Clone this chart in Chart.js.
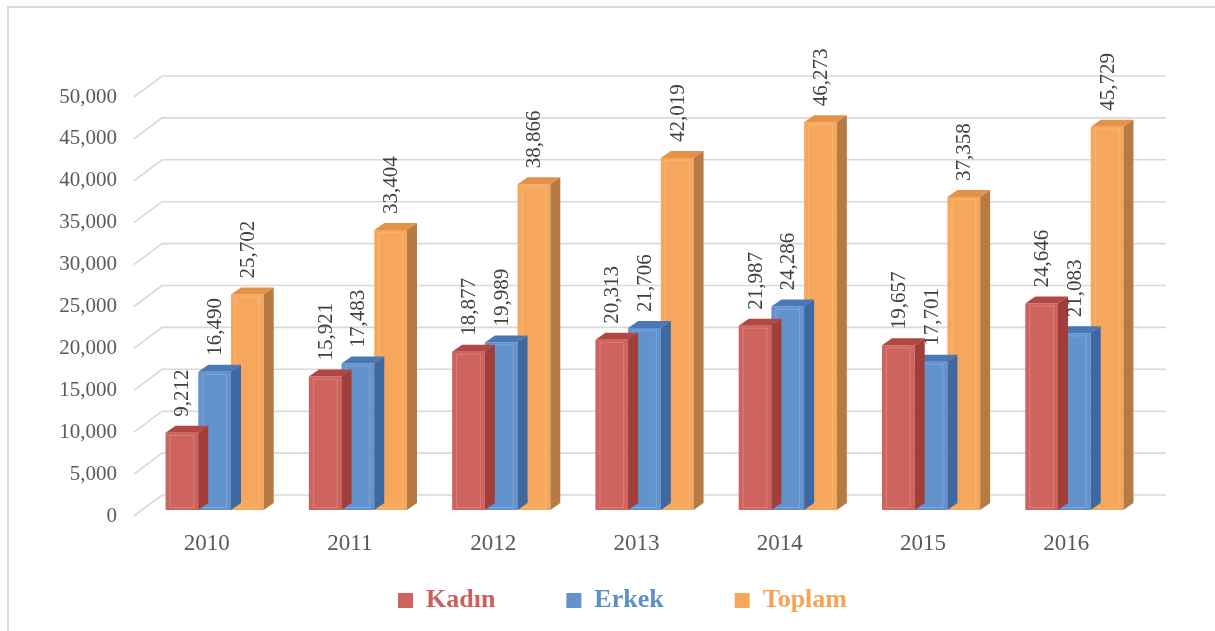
<!DOCTYPE html>
<html>
<head>
<meta charset="utf-8">
<title>Kadın / Erkek / Toplam</title>
<script src="https://cdn.jsdelivr.net/npm/chart.js@4/dist/chart.umd.min.js"></script>
<style>
	html, body { margin: 0; padding: 0; background: #fff; }
	#mycanvas { display: block; }
</style>
</head>
<body>
<canvas id="mycanvas" width="1215" height="631"></canvas>
<script>
var years = ['2010', '2011', '2012', '2013', '2014', '2015', '2016'];
var kadin = [9212, 15921, 18877, 20313, 21987, 19657, 24646];
var erkek = [16490, 17483, 19989, 21706, 24286, 17701, 21083];
var toplam = [25702, 33404, 38866, 42019, 46273, 37358, 45729];
var seriesNames = ['Kadın', 'Erkek', 'Toplam'];

var frontColors = ['rgb(207,100,95)', 'rgb(98,147,206)', 'rgb(247,167,92)'];
var topColors = ['rgb(178,72,68)', 'rgb(72,120,182)', 'rgb(228,146,72)'];
var sideColors = ['rgb(160,62,58)', 'rgb(62,104,160)', 'rgb(182,123,66)'];
var legendText = ['rgb(205,96,92)', 'rgb(92,142,202)', 'rgb(246,163,88)'];

// 3d depth of back wall and of bars
var wallDx = 28, wallUp = 15;
var barDx = 10, barDy = 7;

var frame3d = {
	id: 'frame3d',
	beforeDraw: function(chart) {
		var ctx = chart.ctx;
		ctx.save();
		ctx.fillStyle = '#fff';
		ctx.fillRect(0, 0, chart.width, chart.height);
		ctx.strokeStyle = '#dcdcdc';
		ctx.lineWidth = 2;
		ctx.beginPath();
		ctx.moveTo(8, chart.height);
		ctx.lineTo(8, 7);
		ctx.lineTo(chart.width, 7);
		ctx.stroke();
		ctx.restore();
	},
	afterLayout: function(chart) {
		// nudge the legend row to where it sits in the original
		var lg = chart.legend;
		var pad = lg.options.labels.padding;
		var cur = (lg.left + pad + lg.right - lg.lineWidths[0]) / 2;
		var shift = 398 - cur;
		lg.left += shift;
		lg.right += shift;
		// give the year labels room below the bars (they are clipped to the axis box)
		chart.scales.x.bottom = chart.scales.x.top + 60;
	},
	beforeDatasetsDraw: function(chart) {
		var ctx = chart.ctx;
		var y = chart.scales.y;
		var area = chart.chartArea;
		var x0 = 134;
		ctx.save();
		ctx.strokeStyle = '#d9d9d9';
		ctx.lineWidth = 1.6;
		y.ticks.forEach(function(t) {
			var py = y.getPixelForValue(t.value);
			ctx.beginPath();
			ctx.moveTo(x0, py + 6);
			ctx.lineTo(x0 + wallDx, py - wallUp);
			ctx.lineTo(area.right + 20, py - wallUp);
			ctx.stroke();
		});
		ctx.restore();
	},
	afterDatasetDraw: function(chart, args) {
		var ctx = chart.ctx;
		var i = args.index;
		ctx.save();
		args.meta.data.forEach(function(bar) {
			var l = bar.x - bar.width / 2;
			var r = bar.x + bar.width / 2;
			// top face
			ctx.fillStyle = topColors[i];
			ctx.beginPath();
			ctx.moveTo(l, bar.y);
			ctx.lineTo(r, bar.y);
			ctx.lineTo(r + barDx, bar.y - barDy);
			ctx.lineTo(l + barDx, bar.y - barDy);
			ctx.closePath();
			ctx.fill();
			// side face
			ctx.fillStyle = sideColors[i];
			ctx.beginPath();
			ctx.moveTo(r, bar.y);
			ctx.lineTo(r + barDx, bar.y - barDy);
			ctx.lineTo(r + barDx, bar.base - barDy);
			ctx.lineTo(r, bar.base);
			ctx.closePath();
			ctx.fill();
			// light inner edge on the front
			ctx.strokeStyle = 'rgba(255,255,255,0.18)';
			ctx.lineWidth = 1;
			ctx.strokeRect(l + 4.5, bar.y + 2.5, bar.width - 9, bar.base - bar.y - 5);
		});
		ctx.restore();
	},
	afterDatasetsDraw: function(chart) {
		var ctx = chart.ctx;
		ctx.save();
		ctx.fillStyle = '#404040';
		ctx.font = '21px "Liberation Serif", "Times New Roman", serif';
		ctx.textAlign = 'left';
		ctx.textBaseline = 'middle';
		chart.data.datasets.forEach(function(ds, i) {
			var meta = chart.getDatasetMeta(i);
			meta.data.forEach(function(bar, j) {
				ctx.save();
				ctx.translate(bar.x + 1, bar.y - 16);
				ctx.rotate(-Math.PI / 2);
				ctx.fillText(ds.data[j].toLocaleString('en-US'), 0, 0);
				ctx.restore();
			});
		});
		ctx.restore();
	}
};

var chartdata = {
	labels: years,
	datasets: [
		{ label: seriesNames[0], data: kadin, backgroundColor: frontColors[0] },
		{ label: seriesNames[1], data: erkek, backgroundColor: frontColors[1] },
		{ label: seriesNames[2], data: toplam, backgroundColor: frontColors[2] }
	]
};

var ctx = document.getElementById('mycanvas');

var barGraph = new Chart(ctx, {
	type: 'bar',
	data: chartdata,
	plugins: [frame3d],
	options: {
		responsive: false,
		animation: false,
		layout: { padding: { top: 91, right: 69, left: 0, bottom: 7.5 } },
		datasets: {
			bar: { categoryPercentage: 0.685, barPercentage: 1, borderWidth: 0 }
		},
		scales: {
			x: {
				grid: { display: false, drawTicks: false },
				border: { display: false },
				ticks: {
					color: '#595959',
					font: { family: '"Liberation Serif", "Times New Roman", serif', size: 23 },
					padding: 20,
					labelOffset: -8
				},
				afterFit: function(scale) { scale.height = 6.5; }
			},
			y: {
				min: 0,
				max: 50000,
				grid: { display: false, drawTicks: false },
				border: { display: false },
				ticks: {
					stepSize: 5000,
					color: '#595959',
					font: { family: '"Liberation Serif", "Times New Roman", serif', size: 21 },
					padding: 26,
					labelOffset: 6,
					callback: function(v) { return v.toLocaleString('en-US'); }
				},
				afterFit: function(scale) { scale.width = 143; }
			}
		},
		plugins: {
			tooltip: { enabled: false },
			legend: {
				position: 'bottom',
				labels: {
					boxWidth: 15,
					boxHeight: 15,
					padding: 71,
					font: { family: '"Liberation Serif", "Times New Roman", serif', size: 26, weight: 'bold' },
					generateLabels: function(chart) {
						var items = Chart.defaults.plugins.legend.labels.generateLabels(chart);
						items.forEach(function(it, i) {
							it.fontColor = legendText[i];
							it.lineWidth = 0;
						});
						return items;
					}
				}
			}
		}
	}
});
</script>
</body>
</html>
